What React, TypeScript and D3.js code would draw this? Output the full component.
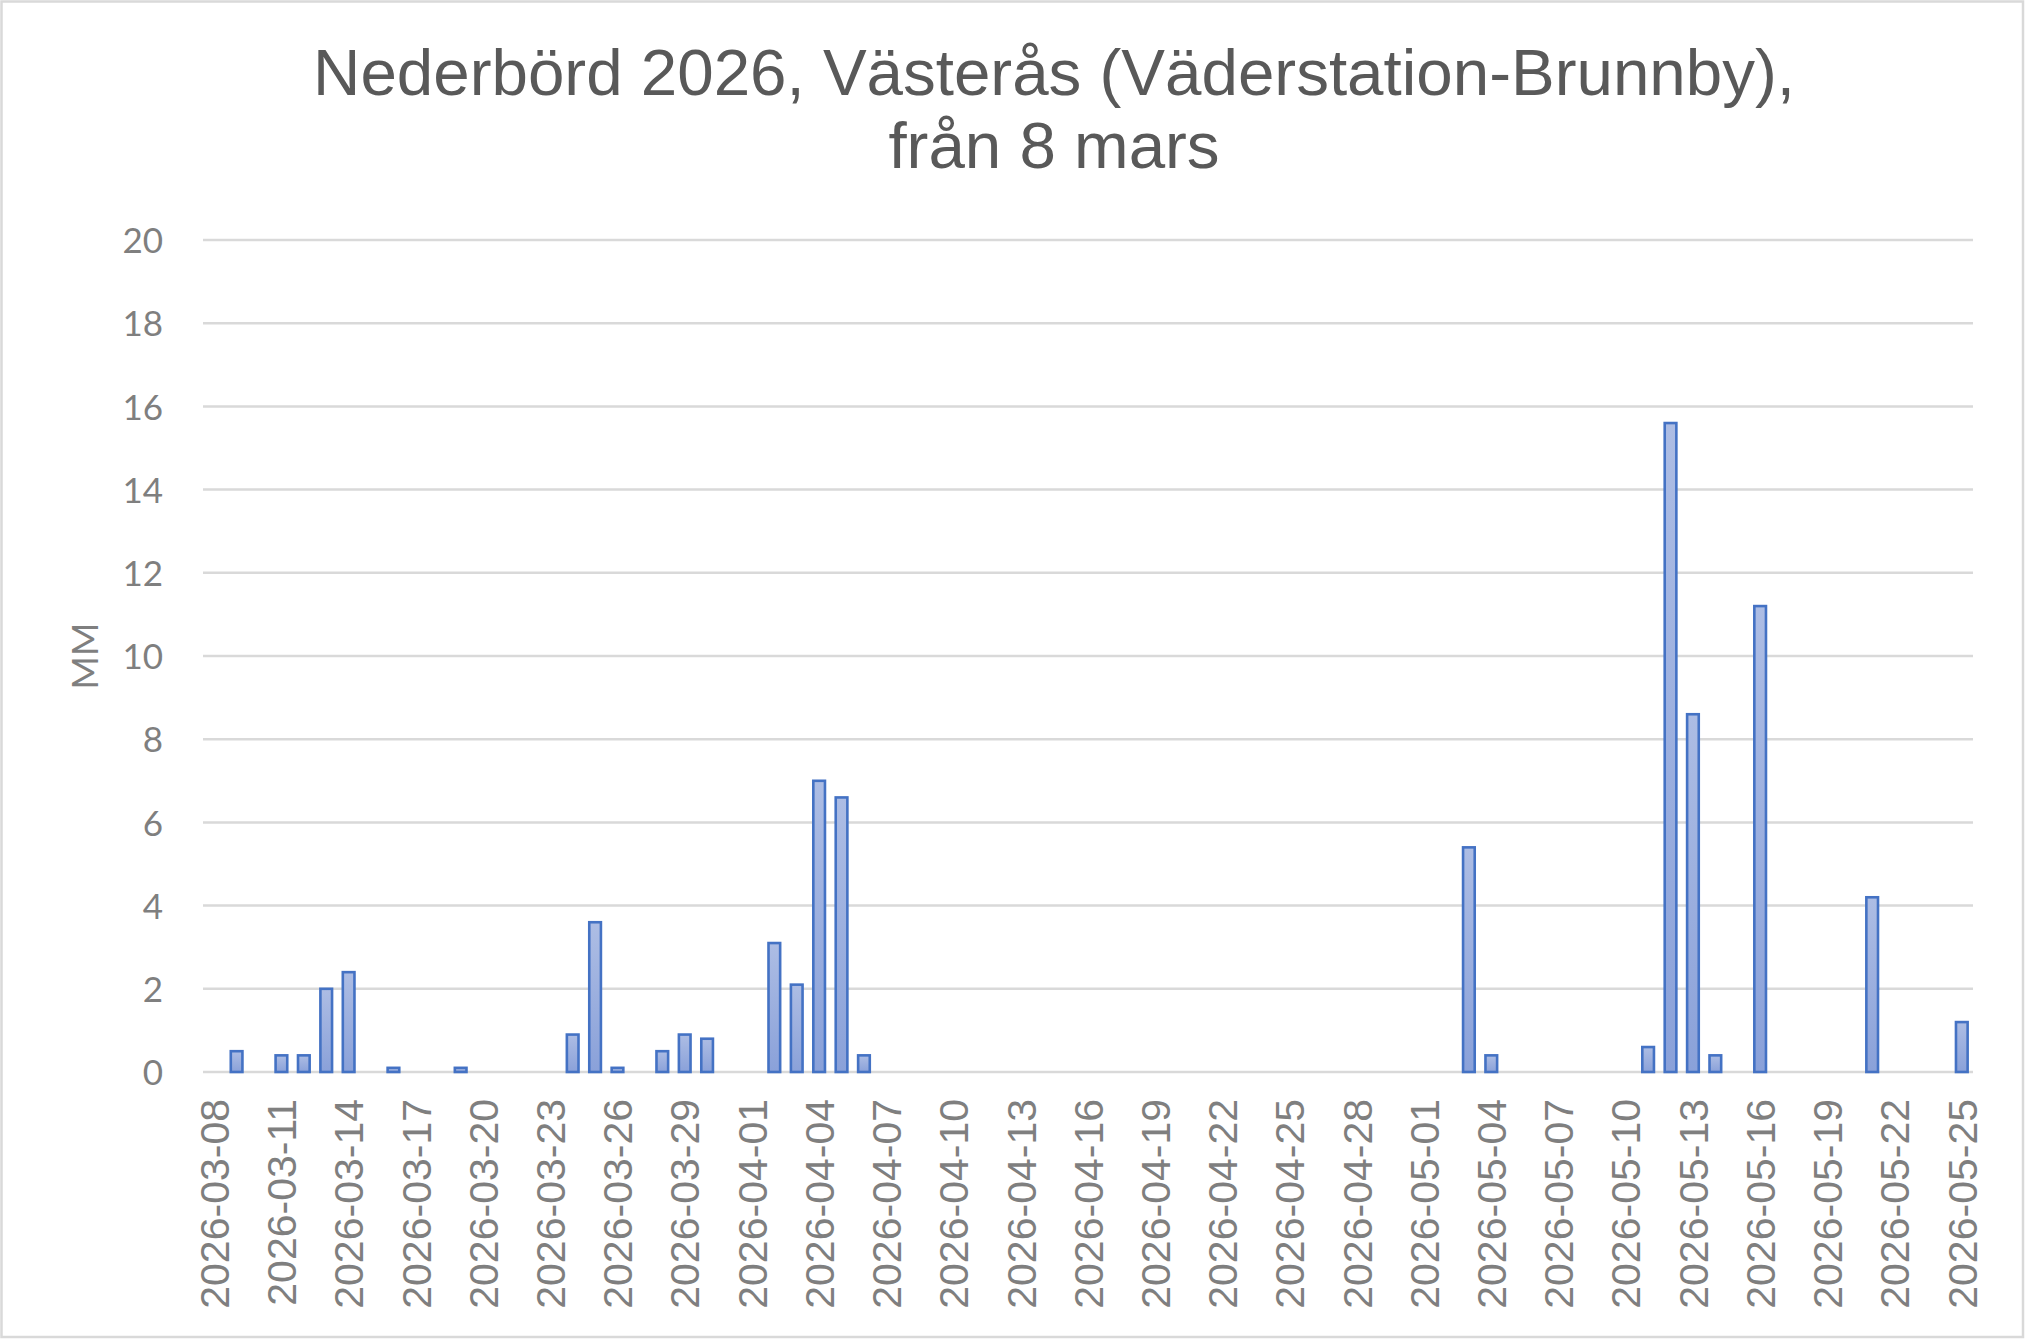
import React, { useEffect, useRef } from 'react';
import * as d3 from 'd3';

// Daily precipitation (mm), one value per day from 2026-03-08 to 2026-05-25
const firstDay = new Date(2026, 2, 8);
const lastDay = new Date(2026, 4, 25);
const rainMm = [
  0, 0.5, 0, 0.4, 0.4, 2.0, 2.4, 0, 0.1, 0, // 03-08 .. 03-17
  0, 0.1, 0, 0, 0, 0, 0.9, 3.6, 0.1, 0, // 03-18 .. 03-27
  0.5, 0.9, 0.8, 0, 0, 3.1, 2.1, 7.0, 6.6, 0.4, // 03-28 .. 04-06
  0, 0, 0, 0, 0, 0, 0, 0, 0, 0, // 04-07 .. 04-16
  0, 0, 0, 0, 0, 0, 0, 0, 0, 0, // 04-17 .. 04-26
  0, 0, 0, 0, 0, 0, 5.4, 0.4, 0, 0, // 04-27 .. 05-06
  0, 0, 0, 0, 0.6, 15.6, 8.6, 0.4, 0, 11.2, // 05-07 .. 05-16
  0, 0, 0, 0, 4.2, 0, 0, 0, 1.2, // 05-17 .. 05-25
];
const yTicks = [0, 2, 4, 6, 8, 10, 12, 14, 16, 18, 20];
const titleLines = ['Nederbörd 2026, Västerås (Väderstation-Brunnby),', 'från 8 mars'];
const yLabel = 'MM';

const W = 2026;
const H = 1340;

export default function App() {
  const svgRef = useRef<SVGSVGElement>(null);

  useEffect(() => {
    if (!svgRef.current) return;
    const svg = d3.select(svgRef.current);
    svg.selectAll('*').remove();

    const fmt = d3.timeFormat('%Y-%m-%d');
    const days = d3.timeDay.range(firstDay, d3.timeDay.offset(lastDay, 1)).map(fmt);
    const data = days.map((d, i) => ({ day: d, mm: rainMm[i] ?? 0 }));

    const plot = { left: 203, right: 1973, top: 240, bottom: 1072 };

    const x = d3.scaleBand<string>()
      .domain(days)
      .range([plot.left, plot.right])
      .paddingInner(0.48)
      .paddingOuter(0.24);

    const y = d3.scaleLinear().domain([0, 20]).range([plot.bottom, plot.top]);

    const defs = svg.append('defs');
    const grad = defs.append('linearGradient')
      .attr('id', 'barFill')
      .attr('x1', 0).attr('y1', 0).attr('x2', 0).attr('y2', 1);
    grad.append('stop').attr('offset', '0%').attr('stop-color', '#adbde4');
    grad.append('stop').attr('offset', '100%').attr('stop-color', '#8aa1d9');

    svg.append('rect')
      .attr('x', 0).attr('y', 0).attr('width', W).attr('height', H)
      .attr('fill', '#ffffff');
    svg.append('rect')
      .attr('x', 1.5).attr('y', 1.5).attr('width', W - 4.5).attr('height', H - 4.5)
      .attr('fill', 'none').attr('stroke', '#d9d9d9').attr('stroke-width', 2.5);

    // title
    svg.append('text')
      .attr('x', 1054)
      .attr('y', 95)
      .attr('text-anchor', 'middle')
      .style('font-family', '"Liberation Sans", Arial, sans-serif')
      .style('font-size', '65.5px')
      .style('fill', '#595959')
      .selectAll('tspan')
      .data(titleLines)
      .enter()
      .append('tspan')
      .attr('x', 1054)
      .attr('dy', (_d, i) => (i === 0 ? 0 : 73))
      .text(d => d);

    // gridlines
    svg.append('g')
      .selectAll('line')
      .data(yTicks)
      .enter()
      .append('line')
      .attr('x1', plot.left).attr('x2', plot.right)
      .attr('y1', d => y(d)).attr('y2', d => y(d))
      .attr('stroke', '#d9d9d9')
      .attr('stroke-width', 2.5);

    // y axis
    const yAxis = svg.append('g')
      .attr('transform', `translate(${plot.left - 40},0)`)
      .call(d3.axisLeft(y).tickValues(yTicks).tickSize(0).tickPadding(0).tickFormat(d3.format('d')));
    yAxis.select('.domain').remove();
    yAxis.selectAll('text')
      .attr('dy', '0.36em')
      .style('font-family', 'Lato, "Noto Sans", sans-serif')
      .style('font-size', '35px')
      .style('fill', '#7f7f7f');

    svg.append('text')
      .attr('transform', `translate(98,${(plot.top + plot.bottom) / 2}) rotate(-90)`)
      .attr('text-anchor', 'middle')
      .style('font-family', 'Lato, "Noto Sans", sans-serif')
      .style('font-size', '36px')
      .style('fill', '#7f7f7f')
      .text(yLabel);

    // bars
    svg.append('g')
      .selectAll('rect')
      .data(data.filter(d => d.mm > 0))
      .enter()
      .append('rect')
      .attr('x', d => x(d.day) ?? 0)
      .attr('y', d => y(d.mm))
      .attr('width', x.bandwidth())
      .attr('height', d => y(0) - y(d.mm))
      .attr('fill', 'url(#barFill)')
      .attr('stroke', '#4472c4')
      .attr('stroke-width', 2.6);

    // x axis labels, every third day
    const xAxis = svg.append('g')
      .attr('transform', `translate(0,${plot.bottom})`)
      .call(d3.axisBottom(x).tickValues(days.filter((_d, i) => i % 3 === 0)).tickSize(0));
    xAxis.select('.domain').remove();
    xAxis.selectAll('text')
      .attr('transform', 'rotate(-90)')
      .attr('text-anchor', 'end')
      .attr('x', -27)
      .attr('y', 0)
      .attr('dy', '0.36em')
      .style('font-family', '"Liberation Sans", Arial, sans-serif')
      .style('font-size', '41px')
      .style('fill', '#7f7f7f');
  }, []);

  return (
    <svg
      ref={svgRef}
      width={W}
      height={H}
      style={{ position: 'absolute', left: 0, top: 0, display: 'block' }}
    />
  );
}
